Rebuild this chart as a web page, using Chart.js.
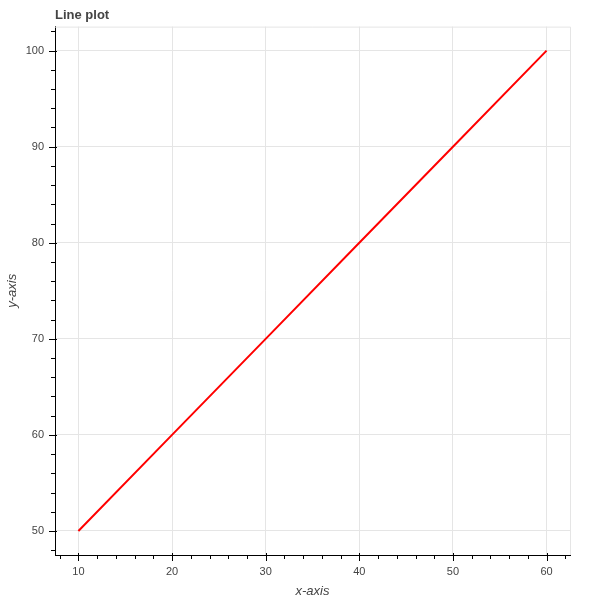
<!DOCTYPE html>
<html>
<head>
<meta charset="utf-8">
<script src="https://cdn.jsdelivr.net/npm/chart.js@4/dist/chart.umd.min.js"></script>
<style>
  html, body { margin: 0; padding: 0; background: #fff; }
  #wrap { width: 600px; height: 600px; }
</style>
</head>
<body>
<div id="wrap"><canvas id="lineChart" width="600" height="600"></canvas></div>
<script>
const xValues = [10, 20, 30, 40, 50, 60];
const yValues = [50, 60, 70, 80, 90, 100];
const xRange = [7.5, 62.5];
const yRange = [47.5, 102.5];
const xTicks = [8, 10, 12, 14, 16, 18, 20, 22, 24, 26, 28, 30, 32, 34, 36, 38, 40, 42, 44, 46, 48, 50, 52, 54, 56, 58, 60, 62];
const yTicks = [48, 50, 52, 54, 56, 58, 60, 62, 64, 66, 68, 70, 72, 74, 76, 78, 80, 82, 84, 86, 88, 90, 92, 94, 96, 98, 100, 102];

const fontFamily = '"Liberation Sans", Arial, Helvetica, sans-serif';
const textColor = '#444444';
const gridColor = '#e5e5e5';

function isMajor(v) {
    return v % 10 === 0;
}

// bokeh style tick marks: major 6 out / 2 in, minor 4 out
const tickMarks = {
    id: 'tickMarks',
    afterDraw(chart) {
        const ctx = chart.ctx;
        const area = chart.chartArea;
        const xs = chart.scales.x;
        const ys = chart.scales.y;
        ctx.save();
        // outline
        ctx.strokeStyle = gridColor;
        ctx.lineWidth = 1;
        ctx.beginPath();
        ctx.moveTo(area.left, area.top + 0.5);
        ctx.lineTo(area.right + 0.5, area.top + 0.5);
        ctx.lineTo(area.right + 0.5, area.bottom);
        ctx.stroke();

        ctx.strokeStyle = '#000';
        ctx.beginPath();
        xs.ticks.forEach(t => {
            const px = Math.round(xs.getPixelForValue(t.value)) + 0.5;
            const major = isMajor(t.value);
            ctx.moveTo(px, area.bottom - (major ? 2 : 0));
            ctx.lineTo(px, area.bottom + (major ? 6 : 4));
        });
        ys.ticks.forEach(t => {
            const py = Math.round(ys.getPixelForValue(t.value)) + 0.5;
            const major = isMajor(t.value);
            ctx.moveTo(area.left + (major ? 2 : 0), py);
            ctx.lineTo(area.left - (major ? 6 : 4), py);
        });
        ctx.stroke();
        ctx.restore();
    }
};

const data = {
    datasets: [{
        data: xValues.map((x, i) => ({ x: x, y: yValues[i] })),
        borderColor: '#ff0000',
        borderWidth: 2,
        pointRadius: 0,
        fill: false,
        tension: 0
    }]
};

const chartOptions = {
    type: 'line',
    data: data,
    plugins: [tickMarks],
    options: {
        responsive: false,
        animation: false,
        layout: {
            padding: { top: 5, right: 30, bottom: 0, left: 0 }
        },
        plugins: {
            legend: { display: false },
            tooltip: { enabled: false },
            title: {
                display: true,
                text: 'Line plot',
                align: 'start',
                fullSize: false,
                color: textColor,
                font: { family: fontFamily, size: 13, weight: 'bold' },
                padding: { top: 3, bottom: 3 }
            }
        },
        scales: {
            x: {
                type: 'linear',
                min: xRange[0],
                max: xRange[1],
                afterBuildTicks: (scale) => {
                    scale.ticks = xTicks.map(v => ({ value: v }));
                },
                afterFit: (scale) => {
                    scale.height = 45;
                },
                ticks: {
                    autoSkip: false,
                    maxRotation: 0,
                    padding: 10,
                    color: textColor,
                    font: { family: fontFamily, size: 11 },
                    callback: (v) => isMajor(v) ? String(v) : ''
                },
                grid: {
                    drawTicks: false,
                    color: (c) => c.tick && isMajor(c.tick.value) ? gridColor : 'rgba(0,0,0,0)'
                },
                border: { color: '#000', width: 1 },
                title: {
                    display: true,
                    text: 'x-axis',
                    color: textColor,
                    font: { family: fontFamily, size: 13, style: 'italic' },
                    padding: { top: 0, bottom: 1 }
                }
            },
            y: {
                type: 'linear',
                min: yRange[0],
                max: yRange[1],
                afterBuildTicks: (scale) => {
                    scale.ticks = yTicks.map(v => ({ value: v }));
                },
                afterFit: (scale) => {
                    scale.width = 55;
                },
                ticks: {
                    autoSkip: false,
                    padding: 11,
                    color: textColor,
                    font: { family: fontFamily, size: 11 },
                    callback: (v) => isMajor(v) ? String(v) : ''
                },
                grid: {
                    drawTicks: false,
                    color: (c) => c.tick && isMajor(c.tick.value) ? gridColor : 'rgba(0,0,0,0)'
                },
                border: { color: '#000', width: 1 },
                title: {
                    display: true,
                    text: 'y-axis',
                    color: textColor,
                    font: { family: fontFamily, size: 13, style: 'italic' },
                    padding: { top: 5, bottom: 0 }
                }
            }
        }
    }
};

const lineCtx = document.getElementById('lineChart').getContext('2d');
const lineChart = new Chart(lineCtx, chartOptions);
</script>
</body>
</html>
